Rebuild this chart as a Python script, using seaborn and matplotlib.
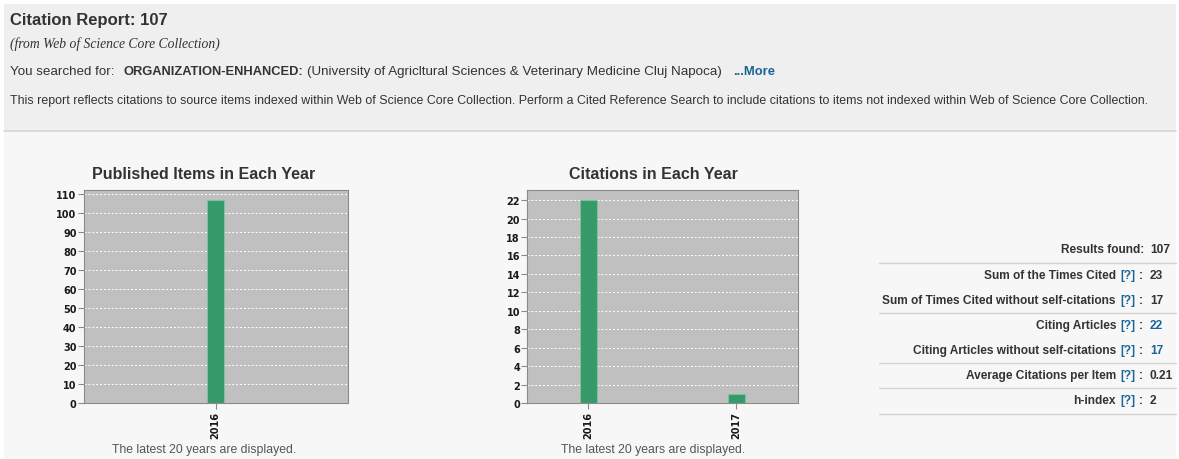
import matplotlib
matplotlib.use("Agg")
import matplotlib.pyplot as plt
import pandas as pd
import seaborn as sns
from matplotlib.patches import Rectangle

# chart data
pub_years = ["2016"]
pub_counts = [107]
cite_years = ["2016", "2017"]
cite_counts = [22, 1]

# summary panel on the right
stat_labels = ["Results found:", "Sum of the Times Cited", "Sum of Times Cited without self-citations",
               "Citing Articles", "Citing Articles without self-citations",
               "Average Citations per Item", "h-index"]
stat_values = ["107", "23", "17", "22", "17", "0.21", "2"]
stat_value_is_link = [False, False, False, True, True, False, False]

W, H = 1179, 460
DARK = "#333333"
BLUE = "#1a6496"
GREEN = "#36996a"

sns.set_style("white")
plt.rcParams["font.family"] = ["Liberation Sans", "DejaVu Sans"]

fig = plt.figure(figsize=(W / 100, H / 100), dpi=100)
fig.patch.set_facecolor("white")

# background layer in pixel coordinates
bg = fig.add_axes([0, 0, 1, 1], zorder=-10)
bg.set_xlim(0, W)
bg.set_ylim(H, 0)
bg.axis("off")
bg.add_patch(Rectangle((4, 132), 1172, 328, facecolor="#f7f7f7", edgecolor="none"))
bg.add_patch(Rectangle((4, 5), 1172, 127, facecolor="#efefef", edgecolor="none"))
bg.plot([4, 1176], [132, 132], color="#d6d6d6", lw=1.2)


def put(x, y, s, **kw):
    kw.setdefault("color", DARK)
    kw.setdefault("va", "center")
    bg.text(x, y, s, **kw)


# header
put(10, 20, "Citation Report: 107", fontsize=12, fontweight="bold")
put(10, 44, "(from Web of Science Core Collection)", fontsize=9.8, style="italic",
    family="Liberation Serif")
put(10, 72, "You searched for:", fontsize=9.6)
put(123, 72, "ORGANIZATION-ENHANCED:", fontsize=9.3, fontweight="bold")
put(307, 72, "(University of Agricltural Sciences & Veterinary Medicine Cluj Napoca)", fontsize=9.6)
put(733, 72, "...More", fontsize=9.4, fontweight="bold", color=BLUE)
put(10, 101, "This report reflects citations to source items indexed within Web of Science Core Collection. "
             "Perform a Cited Reference Search to include citations to items not indexed within Web of Science "
             "Core Collection.", fontsize=8.9)


def draw_chart(left, right, years, counts, ymax, step, width, xlim, title, tcx):
    ax = fig.add_axes([left / W, 1 - 404 / H, (right - left) / W, (404 - 191) / H])
    df = pd.DataFrame({"year": years, "count": counts})
    sns.barplot(data=df, x="year", y="count", ax=ax, color=GREEN, width=width,
                edgecolor="#7cc39b", linewidth=0.8, saturation=1)
    ax.set_facecolor("#c0c0c0")
    ax.set_xlim(*xlim)
    ax.set_ylim(0, ymax)
    ax.set_yticks(range(0, int(ymax) + 1, step))
    ax.yaxis.grid(True, color="white", linestyle=(0, (2, 2)), linewidth=0.7)
    ax.set_axisbelow(True)
    for sp in ax.spines.values():
        sp.set_color("#8a8a8a")
        sp.set_linewidth(0.8)
    ax.tick_params(axis="y", left=True, length=4, width=0.8, color="#8a8a8a", pad=1,
                   labelsize=7, labelcolor="#1a1a1a")
    ax.tick_params(axis="x", bottom=True, length=4, width=0.8, color="#8a8a8a", pad=2,
                   labelsize=7, labelcolor="#1a1a1a", labelrotation=90)
    for lab in ax.get_yticklabels() + ax.get_xticklabels():
        lab.set_family("DejaVu Sans")
        lab.set_fontweight("semibold")
    ax.set_xlabel("")
    ax.set_ylabel("")
    put(tcx, 175, title, fontsize=11.5, fontweight="bold", ha="center")
    put(tcx, 450, "The latest 20 years are displayed.", fontsize=8.8, ha="center", color="#555555")
    return ax


draw_chart(83.5, 347.5, pub_years, pub_counts, 112, 10, 0.0645, (-0.5, 0.5),
           "Published Items in Each Year", 204)
draw_chart(527, 797.5, cite_years, cite_counts, 23.1, 2, 0.115, (-0.414, 1.414),
           "Citations in Each Year", 653)

# summary table
row_y = [250, 276.5, 301, 326.5, 351.5, 376.5, 401.5]
for i, (lab, val, link) in enumerate(zip(stat_labels, stat_values, stat_value_is_link)):
    y = row_y[i]
    if i == 0:
        put(1144, y, lab, fontsize=8.6, fontweight="bold", ha="right")
    else:
        put(1143, y, ":", fontsize=8.6, fontweight="bold", ha="right")
        put(1135.5, y, "[?]", fontsize=8.6, fontweight="bold", ha="right", color=BLUE)
        put(1116, y, lab, fontsize=8.6, fontweight="bold", ha="right")
    put(1150, y, val, fontsize=8.6, fontweight="bold", ha="left", color=BLUE if link else DARK)

for y in [264.3, 314.3, 364.3, 389.3, 415]:
    bg.plot([879, 1176], [y, y], color="#d2d2d2", lw=1)

fig.savefig("out.png", dpi=100)
